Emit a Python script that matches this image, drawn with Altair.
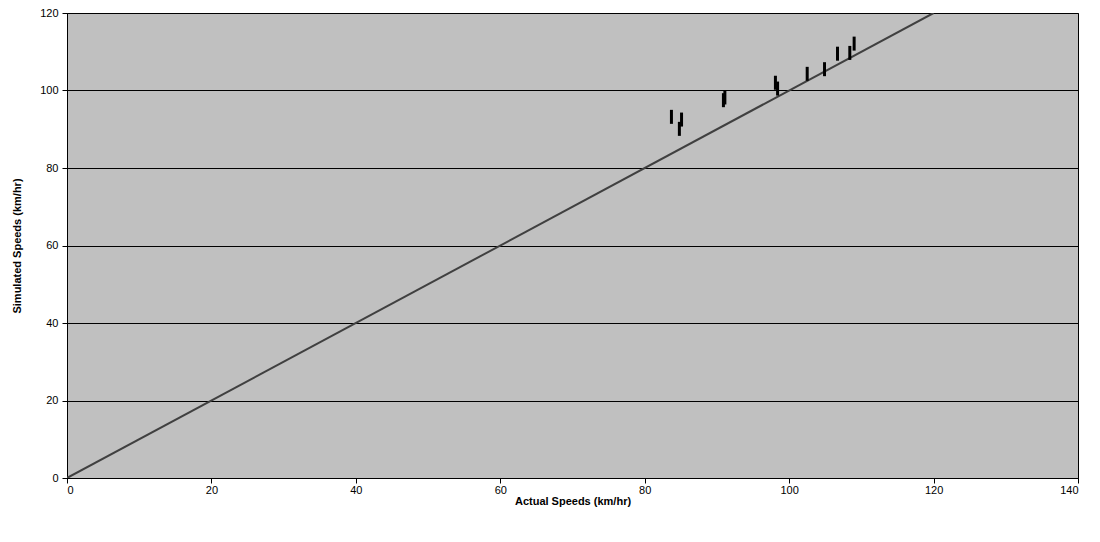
import altair as alt
import pandas as pd

actual = [83.7, 84.8, 85.1, 90.9, 91.1, 98.1, 98.4, 102.5, 104.9, 106.7, 108.4, 109.0]
simulated = [93.2, 90.1, 92.5, 97.5, 98.2, 102.0, 100.5, 104.3, 105.5, 109.5, 109.7, 112.1]
line_x = [0, 120]
line_y = [0, 120]

pts = pd.DataFrame({"actual": actual, "simulated": simulated})
ref = pd.DataFrame({"actual": line_x, "simulated": line_y})

xs = alt.Scale(domain=[0, 140], nice=False)
ys = alt.Scale(domain=[0, 120], nice=False)

xax = alt.Axis(values=list(range(0, 141, 20)), grid=False, title="Actual Speeds (km/hr)",
               titleFontWeight="bold", titleFontSize=11, labelFontSize=11, tickSize=5,
               tickColor="black", domainColor="black", titlePadding=0, labelPadding=1,
               labelColor="black", titleColor="black")
yax = alt.Axis(values=list(range(0, 121, 20)), grid=True, gridColor="black", gridWidth=1,
               title="Simulated Speeds (km/hr)", titleFontWeight="bold", titleFontSize=11,
               labelFontSize=11, tickSize=5, tickColor="black", domainColor="black",
               titlePadding=17, labelPadding=4, labelColor="black", titleColor="black")

line = alt.Chart(ref).mark_line(color="#404040", strokeWidth=2, clip=True).encode(
    x=alt.X("actual:Q", scale=xs, axis=xax),
    y=alt.Y("simulated:Q", scale=ys, axis=yax),
)

marks = alt.Chart(pts).mark_tick(orient="vertical", color="black", thickness=3, size=14,
                                 opacity=1).encode(
    x=alt.X("actual:Q", scale=xs),
    y=alt.Y("simulated:Q", scale=ys),
)

chart = alt.layer(line, marks).properties(
    width=1011, height=465,
    autosize=alt.AutoSizeParams(type="none"),
    padding={"left": 59, "top": 5, "right": 14, "bottom": 56},
).configure(font="Liberation Sans").configure_view(
    fill="#C0C0C0", stroke="black", strokeWidth=1
)

chart.save("out.html", embed_options={"renderer": "svg", "actions": False})
